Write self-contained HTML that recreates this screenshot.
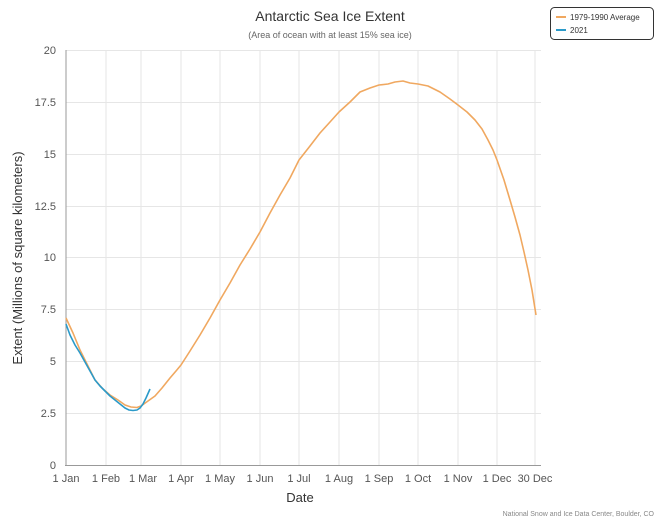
<!DOCTYPE html>
<html><head><meta charset="utf-8"><style>body{margin:0;background:#fff}svg{display:block}text{font-family:"Liberation Sans","DejaVu Sans",sans-serif}</style></head>
<body>
<svg width="660" height="520" viewBox="0 0 660 520" xmlns="http://www.w3.org/2000/svg">
<rect width="660" height="520" fill="#fff"/>
<text x="330" y="21" text-anchor="middle" font-size="14" fill="#333">Antarctic Sea Ice Extent</text>
<text x="330" y="38" text-anchor="middle" font-size="9" fill="#666">(Area of ocean with at least 15% sea ice)</text>
<g stroke="#e6e6e6" stroke-width="1">
<line x1="66" y1="50.5" x2="541" y2="50.5"/><line x1="66" y1="102.5" x2="541" y2="102.5"/><line x1="66" y1="154.5" x2="541" y2="154.5"/><line x1="66" y1="206.5" x2="541" y2="206.5"/><line x1="66" y1="257.5" x2="541" y2="257.5"/><line x1="66" y1="309.5" x2="541" y2="309.5"/><line x1="66" y1="361.5" x2="541" y2="361.5"/><line x1="66" y1="413.5" x2="541" y2="413.5"/>
<line x1="106" y1="50" x2="106" y2="465"/><line x1="141" y1="50" x2="141" y2="465"/><line x1="181" y1="50" x2="181" y2="465"/><line x1="220" y1="50" x2="220" y2="465"/><line x1="260" y1="50" x2="260" y2="465"/><line x1="299" y1="50" x2="299" y2="465"/><line x1="339" y1="50" x2="339" y2="465"/><line x1="379" y1="50" x2="379" y2="465"/><line x1="418" y1="50" x2="418" y2="465"/><line x1="458" y1="50" x2="458" y2="465"/><line x1="497" y1="50" x2="497" y2="465"/><line x1="535" y1="50" x2="535" y2="465"/>
</g>
<line x1="66" y1="50" x2="66" y2="466" stroke="#999"/>
<line x1="65" y1="465.5" x2="541" y2="465.5" stroke="#999"/>
<g font-size="11" fill="#555" text-anchor="end">
<text x="56" y="54">20</text><text x="56" y="106">17.5</text><text x="56" y="158">15</text><text x="56" y="210">12.5</text><text x="56" y="261">10</text><text x="56" y="313">7.5</text><text x="56" y="365">5</text><text x="56" y="417">2.5</text><text x="56" y="469">0</text>
</g>
<g font-size="11" fill="#555" text-anchor="middle">
<text x="66" y="482">1 Jan</text><text x="106" y="482">1 Feb</text><text x="143" y="482">1 Mar</text><text x="181" y="482">1 Apr</text><text x="220" y="482">1 May</text><text x="260" y="482">1 Jun</text><text x="299" y="482">1 Jul</text><text x="339" y="482">1 Aug</text><text x="379" y="482">1 Sep</text><text x="418" y="482">1 Oct</text><text x="458" y="482">1 Nov</text><text x="497" y="482">1 Dec</text><text x="535" y="482">30 Dec</text>
</g>
<text x="300" y="502" text-anchor="middle" font-size="13" fill="#333">Date</text>
<text transform="translate(22,258) rotate(-90)" text-anchor="middle" font-size="13" fill="#333">Extent (Millions of square kilometers)</text>
<text x="654" y="516" text-anchor="end" font-size="7" fill="#888">National Snow and Ice Data Center, Boulder, CO</text>
<polyline fill="none" stroke="#f0a860" stroke-width="1.6" stroke-linejoin="round" points="66,318 73,333 80,350 88,366 95,380 103,389 110,395 118,400 125,405 131,407 137,407.5 141,406 148,401 155,396 162,388 170,378 176,371 181,365 190,351 200,335 210,318 220,300 230,283 240,265 250,249 260,232 270,213 280,195 290,178 299,160 310,146 320,133 330,122 339,112 350,102 360,92 370,88 379,85 388,84 395,82 403,81 410,83 418,84 428,86 440,92 450,99 458,105 467,112 475,120 482,129 488,140 493,150 497,160 504,180 510,200 515,217 520,235 524,252 528,270 532,290 536,315"/>
<polyline fill="none" stroke="#2b9ac9" stroke-width="1.6" stroke-linejoin="round" points="66,324 70,335 75,345 80,353 85,362 90,371 95,380 100,386 106,392 110,396 115,400 120,404 125,408 129,410 133,410.5 137,410 140,408 143,404 146,398 150,389"/>
<rect x="550.5" y="7.5" width="103" height="32" rx="4" fill="#fff" stroke="#333"/>
<line x1="556" y1="17" x2="566" y2="17" stroke="#f0a860" stroke-width="2"/>
<text x="570" y="20" font-size="8" fill="#333">1979-1990 Average</text>
<line x1="556" y1="30" x2="566" y2="30" stroke="#2b9ac9" stroke-width="2"/>
<text x="570" y="33" font-size="8" fill="#333">2021</text>
</svg>
</body></html>
